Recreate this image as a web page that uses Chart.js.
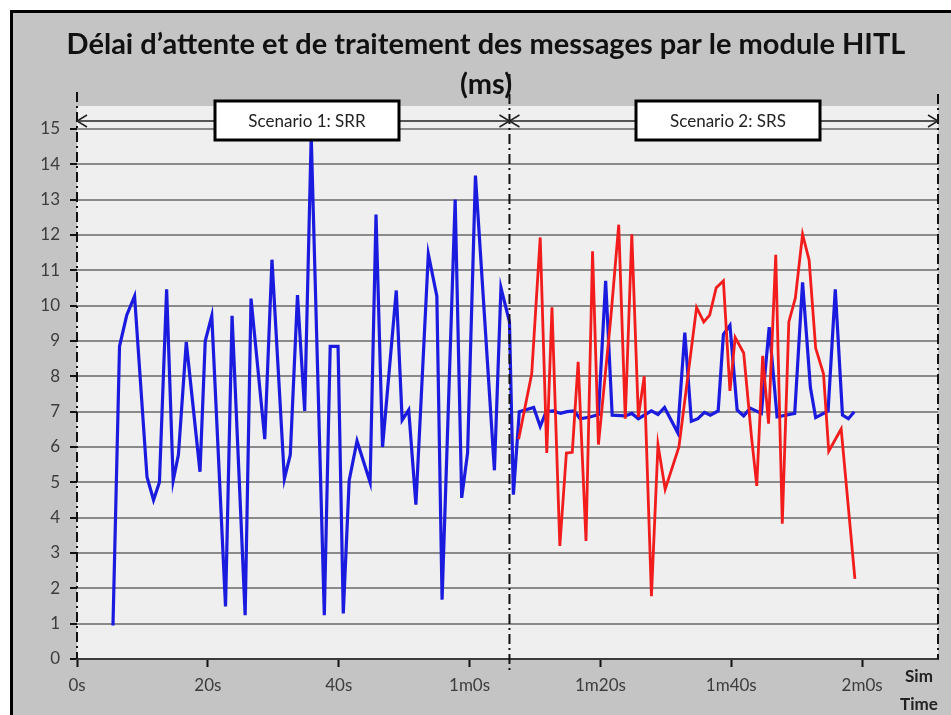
<!DOCTYPE html>
<html lang="fr">
<head>
<meta charset="utf-8">
<title>Délai d'attente HITL</title>
<script src="https://cdn.jsdelivr.net/npm/chart.js@4.4.0/dist/chart.umd.min.js"></script>
<style>
  html, body { margin: 0; padding: 0; background: #fff; }
  #wrap { width: 951px; height: 715px; }
</style>
</head>
<body>
<div id="wrap"><canvas id="delayChart" width="951" height="715"></canvas></div>
<script>
// temps de simulation (s) / délai (ms) - série bleue (SRR puis SRS)
const serie1Times = [
  5.5, 6.5, 7.6, 8.8, 10.7, 11.7, 12.6, 13.7, 14.7, 15.5,
  16.7, 18.8, 19.6, 20.6, 22.7, 23.7, 25.7, 26.6, 28.7, 29.8,
  31.7, 32.6, 33.7, 34.8, 35.8, 37.8, 38.7, 39.9, 40.7, 41.6,
  42.8, 44.8, 45.7, 46.7, 48.8, 49.7, 50.7, 51.8, 53.7, 55.0,
  55.8, 57.8, 58.8, 59.7, 60.9, 63.8, 64.8, 66.1, 66.7, 67.6,
  69.8, 70.8, 71.7, 72.8, 73.9, 74.9, 76.0, 76.9, 78.4, 79.7,
  80.8, 81.8, 83.8, 84.8, 85.8, 87.8, 88.8, 89.8, 91.8, 92.9,
  93.9, 94.9, 95.9, 96.8, 98.0, 98.8, 99.8, 100.9, 101.9, 102.9,
  104.6, 105.8, 107.0, 109.7, 110.9, 112.1, 112.9, 114.8, 115.9, 117.0,
  117.9, 118.8
];
const serie1Delays = [
  0.95, 8.85, 9.73, 10.27, 5.15, 4.5, 5.0, 10.46, 5.05, 5.78,
  8.97, 5.3, 9.0, 9.71, 1.49, 9.71, 1.24, 10.2, 6.22, 11.3,
  5.1, 5.78, 10.3, 7.02, 14.8, 1.24, 8.85, 8.85, 1.29, 5.05,
  6.17, 5.0, 12.58, 6.0, 10.43, 6.76, 7.05, 4.37, 11.46, 10.27,
  1.68, 13.0, 4.56, 5.83, 13.68, 5.34, 10.51, 9.54, 4.65, 7.0,
  7.12, 6.58, 7.0, 7.02, 6.95, 7.0, 7.02, 6.8, 6.85, 6.92,
  10.7, 6.9, 6.88, 6.95, 6.8, 7.02, 6.92, 7.12, 6.41, 9.24,
  6.73, 6.8, 6.98, 6.9, 7.02, 9.19, 9.44, 7.05, 6.88, 7.1,
  6.95, 9.39, 6.85, 6.95, 10.66, 7.68, 6.83, 7.02, 10.46, 6.9,
  6.8, 7.0
];

// série rouge (scénario SRS uniquement)
const serie2Times = [
  67.5, 69.5, 70.8, 71.8, 72.6, 73.8, 74.8, 75.7, 76.6, 77.8,
  78.8, 79.7, 81.6, 82.8, 83.8, 84.8, 85.8, 86.7, 87.8, 88.8,
  89.9, 92.0, 94.7, 95.8, 96.7, 97.7, 98.8, 99.8, 100.6, 101.9,
  103.1, 103.9, 104.8, 105.7, 106.8, 107.8, 108.8, 109.8, 110.9, 111.9,
  112.9, 114.1, 114.9, 116.8, 118.9
];
const serie2Delays = [
  6.22, 8.07, 11.93, 5.83, 9.95, 3.2, 5.83, 5.85, 8.41, 3.34,
  11.54, 6.07, 9.68, 12.29, 6.8, 12.02, 6.85, 8.0, 1.78, 6.07,
  4.8, 6.0, 9.95, 9.54, 9.73, 10.51, 10.7, 7.59, 9.1, 8.66,
  6.27, 4.9, 8.58, 6.66, 11.44, 3.83, 9.54, 10.22, 12.02, 11.29,
  8.8, 8.07, 5.88, 6.51, 2.27
];

const xTickValues = [0, 20, 40, 60, 80, 100, 120];
const xTickLabels = ['0s', '20s', '40s', '1m0s', '1m20s', '1m40s', '2m0s'];
const yTickValues = [0, 1, 2, 3, 4, 5, 6, 7, 8, 9, 10, 11, 12, 13, 14, 15];

// bornes des deux scénarios (s)
const scenarioBounds = [0, 66.1, 131.6];
const scenarioLabels = ['Scenario 1: SRR', 'Scenario 2: SRS'];

const titleLines = ['Délai d\u2019attente et de traitement des messages par le module HITL', '(ms)'];
const axisTitleLines = ['Sim', 'Time'];

const toPoints = (xs, ys) => xs.map((x, i) => ({ x: x, y: ys[i] }));

const FONT = 'Lato, "Open Sans", sans-serif';

function dashLine(ctx, x, y1, y2) {
  ctx.save();
  ctx.strokeStyle = '#111';
  ctx.lineWidth = 2;
  ctx.setLineDash([10, 4, 2, 4]);
  ctx.beginPath();
  ctx.moveTo(x, y1);
  ctx.lineTo(x, y2);
  ctx.stroke();
  ctx.restore();
}

function arrowHead(ctx, x, y, dir) {
  ctx.beginPath();
  ctx.moveTo(x - dir * 10, y - 6);
  ctx.lineTo(x, y);
  ctx.lineTo(x - dir * 10, y + 6);
  ctx.stroke();
}

function labelBox(ctx, cx, text) {
  const w = 184, h = 39, top = 101;
  ctx.fillStyle = '#fff';
  ctx.fillRect(cx - w / 2, top, w, h);
  ctx.strokeStyle = '#000';
  ctx.lineWidth = 3;
  ctx.strokeRect(cx - w / 2, top, w, h);
  ctx.fillStyle = '#222';
  ctx.font = '17px ' + FONT;
  ctx.textAlign = 'center';
  ctx.textBaseline = 'middle';
  ctx.fillText(text, cx, top + h / 2 + 1);
}

// fond, cadre, titre et annotations des scénarios
const decorPlugin = {
  id: 'decor',
  beforeDraw(chart) {
    const { ctx, chartArea: a } = chart;
    ctx.save();
    ctx.fillStyle = '#c4c4c4';
    ctx.fillRect(11, 11, chart.width, chart.height);
    ctx.strokeStyle = '#000';
    ctx.lineWidth = 3;
    ctx.strokeRect(11.5, 11.5, chart.width + 20, chart.height + 20);
    ctx.fillStyle = '#efefef';
    ctx.fillRect(a.left, a.top, a.right - a.left, a.bottom - a.top);

    ctx.fillStyle = '#111';
    ctx.font = 'bold 29px ' + FONT;
    ctx.textAlign = 'center';
    ctx.textBaseline = 'middle';
    titleLines.forEach((t, i) => ctx.fillText(t, 486, 45 + i * 40));
    ctx.restore();
  },
  afterDatasetsDraw(chart) {
    const { ctx, chartArea: a, scales: { x } } = chart;
    const xs = scenarioBounds.map(v => x.getPixelForValue(v));
    const arrowY = 121;
    ctx.save();
    dashLine(ctx, xs[0], 92, a.bottom);
    dashLine(ctx, xs[1], 74, a.bottom + 12);
    dashLine(ctx, xs[2], 94, a.bottom);

    ctx.strokeStyle = '#222';
    ctx.lineWidth = 1.5;
    for (let i = 0; i < 2; i++) {
      ctx.beginPath();
      ctx.moveTo(xs[i], arrowY);
      ctx.lineTo(xs[i + 1], arrowY);
      ctx.stroke();
      arrowHead(ctx, xs[i], arrowY, -1);
      arrowHead(ctx, xs[i + 1], arrowY, 1);
    }
    labelBox(ctx, 307, scenarioLabels[0]);
    labelBox(ctx, 728, scenarioLabels[1]);

    ctx.fillStyle = '#222';
    ctx.font = 'bold 17px ' + FONT;
    ctx.textAlign = 'center';
    ctx.textBaseline = 'middle';
    axisTitleLines.forEach((t, i) => ctx.fillText(t, 919, 677 + i * 28));
    ctx.restore();
  }
};

new Chart(document.getElementById('delayChart'), {
  type: 'line',
  data: {
    datasets: [
      {
        label: 'SRS',
        data: toPoints(serie2Times, serie2Delays),
        borderColor: '#f21c1c',
        borderWidth: 2.8,
        pointRadius: 0,
        tension: 0,
        fill: false
      },
      {
        label: 'SRR',
        data: toPoints(serie1Times, serie1Delays),
        borderColor: '#1b1be0',
        borderWidth: 3.2,
        pointRadius: 0,
        tension: 0,
        fill: false
      }
    ]
  },
  options: {
    responsive: false,
    animation: false,
    layout: { padding: { top: 106, right: 13, left: 0, bottom: 0 } },
    plugins: {
      legend: { display: false },
      tooltip: { enabled: false }
    },
    scales: {
      x: {
        type: 'linear',
        min: scenarioBounds[0],
        max: scenarioBounds[2],
        afterBuildTicks: s => { s.ticks = xTickValues.map(v => ({ value: v })); },
        afterFit: s => { s.height = 56; },
        grid: { drawOnChartArea: false, drawTicks: true, tickLength: 8, tickColor: '#111', tickWidth: 2 },
        border: { display: true, color: '#3a3a3a', width: 2 },
        ticks: {
          autoSkip: false,
          maxRotation: 0,
          padding: 8,
          color: '#3c3c3c',
          font: { family: FONT, size: 17 },
          callback: v => xTickLabels[xTickValues.indexOf(v)]
        }
      },
      y: {
        min: 0,
        max: 15.65,
        afterBuildTicks: s => { s.ticks = yTickValues.map(v => ({ value: v })); },
        afterFit: s => { s.width = 77; },
        grid: { color: '#8a8a8a', lineWidth: 2, tickColor: '#111', tickLength: 7, tickWidth: 2 },
        border: { display: false },
        ticks: {
          padding: 10,
          color: '#3c3c3c',
          font: { family: FONT, size: 17 }
        }
      }
    }
  },
  plugins: [decorPlugin]
});
</script>
</body>
</html>
